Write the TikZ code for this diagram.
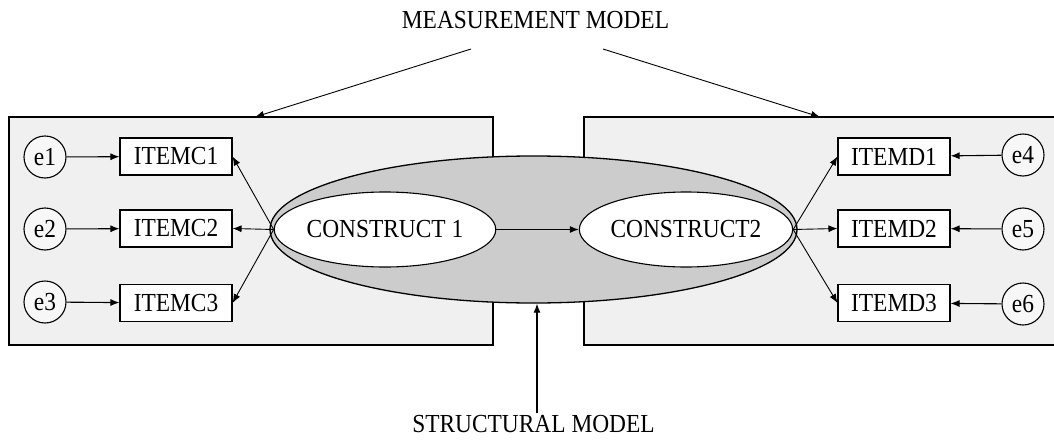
\documentclass[tikz,border=0pt]{standalone}
\usepackage{fontspec}
\setmainfont{Liberation Serif}[FakeStretch=0.9]
\usetikzlibrary{arrows.meta,shapes.geometric}
\begin{document}
\begin{tikzpicture}[x=1pt,y=-1pt,
  every node/.style={font=\fontsize{26}{30}\selectfont},
  arr/.style={line width=1.1pt,-{Latex[length=9pt,width=7pt]}},
  thin arr/.style={line width=0.9pt,-{Latex[length=9pt,width=7pt]}},
  panel/.style={draw, line width=1.3pt, fill=black!6},
  item/.style={draw, line width=1.1pt, fill=white, minimum width=112pt, minimum height=37pt, inner sep=0pt},
  err/.style={circle, draw, line width=1.1pt, fill=black!3, minimum size=42pt, inner sep=0pt},
  construct/.style={ellipse, draw, line width=1.1pt, fill=white, minimum width=176pt, minimum height=75pt, inner sep=0pt},
  structdomain/.style={ellipse, draw, line width=1.3pt, fill=black!20, minimum width=527pt, minimum height=147pt}]
\useasboundingbox (0,0) rectangle (1054,444);
\clip (0,0) rectangle (1054,444);
% panels
\draw[panel] (9,117) rectangle (493,345);
\draw[panel] (584,117) rectangle (1070,345);
% structural domain
\node[structdomain] (dom) at (533.5,229.5) {};
% items
\node[item] (c1) at (176,156.5) {ITEMC1};
\node[item] (c2) at (176,228.5) {ITEMC2};
\node[item] (c3) at (176,303) {ITEMC3};
\node[item] (d1) at (894,156.5) {ITEMD1};
\node[item] (d2) at (894,228.5) {ITEMD2};
\node[item] (d3) at (894,303) {ITEMD3};
% errors
\node[err] (e1) at (45,157) {e1};
\node[err] (e2) at (45,229) {e2};
\node[err] (e3) at (45,302) {e3};
\node[err] (e4) at (1023,155) {e4};
\node[err] (e5) at (1023,229) {e5};
\node[err] (e6) at (1023,304) {e6};
% constructs
\node[construct] (k1) at (385,229.5) {CONSTRUCT 1};
\node[construct] (k2) at (686,229.5) {CONSTRUCT2};
% error arrows
\draw[arr] (e1) -- (c1);
\draw[arr] (e2) -- (c2);
\draw[arr] (e3) -- (c3);
\draw[arr] (e4) -- (d1);
\draw[arr] (e5) -- (d2);
\draw[arr] (e6) -- (d3);
% loadings
\draw[thin arr] (k1.west) -- (c1.east);
\draw[thin arr] (k1.west) -- (c2.east);
\draw[thin arr] (k1.west) -- (c3.east);
\draw[thin arr] (k2.east) -- (d1.west);
\draw[thin arr] (k2.east) -- (d2.west);
\draw[thin arr] (k2.east) -- (d3.west);
% structural path
\draw[arr] (k1.east) -- (k2.west);
% labels
\node (mm) at (535.5,20) {MEASUREMENT MODEL};
\node (sm) at (533.5,424) {STRUCTURAL MODEL};
\coordinate (mmL) at (471,49);
\coordinate (mmR) at (603,49);
\coordinate (tL) at (255,117);
\coordinate (tR) at (820,117);
\coordinate (smT) at (537,413);
\draw[thin arr] (mmL) -- (tL);
\draw[thin arr] (mmR) -- (tR);
\draw[arr] (smT) -- (smT |- dom.south);
\end{tikzpicture}
\end{document}
